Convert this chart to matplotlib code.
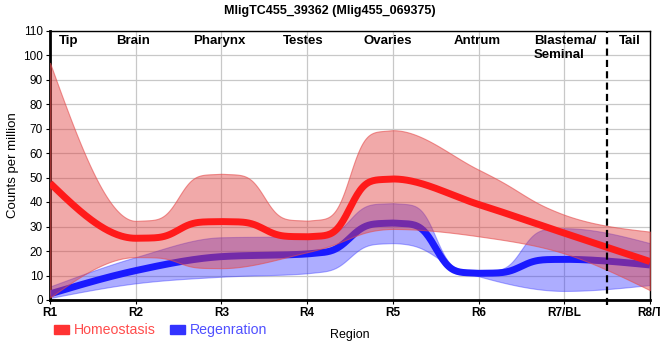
import numpy as np
import matplotlib
matplotlib.use("Agg")
import matplotlib.pyplot as plt
from matplotlib.patches import Patch

plt.rcParams['font.family'] = ['Liberation Sans', 'DejaVu Sans']

regions = ['R1', 'R2', 'R3', 'R4', 'R5', 'R6', 'R7/BL', 'R8/T']
# homeostasis: mean and band
homeo_mean = [47.7, 25.2, 32.0, 25.8, 49.4, 39.0, 27.3, 15.7]
homeo_low = [1.0, 17.5, 13.0, 19.5, 29.0, 26.0, 19.0, 4.0]
homeo_high = [96.8, 32.3, 51.5, 32.4, 69.3, 53.2, 34.8, 27.9]
# regeneration: mean and band
regen_mean = [2.5, 12.0, 17.7, 18.8, 31.4, 10.9, 16.6, 14.3]
regen_low = [0.8, 6.8, 9.5, 10.9, 23.2, 9.7, 3.7, 6.1]
regen_high = [5.5, 17.5, 25.6, 26.0, 39.5, 11.8, 29.3, 23.2]

section_names = ['Tip', 'Brain', 'Pharynx', 'Testes', 'Ovaries', 'Antrum',
                 'Blastema/\nSeminal', 'Tail']
section_pos = [0.22, 0.97, 1.98, 2.95, 3.94, 4.98, 6.01, 6.77]


def monotone(y, n=60):
    # monotone cubic through the points, transitions a bit sharper
    # when both ends of a segment are flat
    y = np.asarray(y, float)
    s = np.diff(y)
    t = np.zeros_like(y)
    for i in range(1, len(y) - 1):
        s0, s1 = s[i - 1], s[i]
        p = (s0 + s1) / 2
        t[i] = (np.sign(s0) + np.sign(s1)) * min(abs(s0), abs(s1), 0.5 * abs(p))
    t[0] = (3 * s[0] - t[1]) / 2
    t[-1] = (3 * s[-1] - t[-2]) / 2
    xs, ys = [], []
    u = np.linspace(0, 1, n, endpoint=False)
    for i in range(len(y) - 1):
        d = s[i]
        flat = 1.0
        if d != 0:
            flat = 1 - min(1.0, max(abs(t[i]), abs(t[i + 1])) / abs(d))
        w = u + 15 * flat * u**2 * (1 - u)**2 * (u - 0.5)
        h01 = -2 * w**3 + 3 * w**2
        h10 = u**3 - 2 * u**2 + u
        h11 = u**3 - u**2
        xs.append(i + u)
        ys.append(y[i] + d * h01 + h10 * t[i] + h11 * t[i + 1])
    xs.append([len(y) - 1])
    ys.append([y[-1]])
    return np.concatenate(xs), np.concatenate(ys)


fig = plt.figure(figsize=(6.6, 3.6), dpi=100)
ax = fig.add_axes([50 / 660, 60 / 360, 600 / 660, 269.5 / 360])

x, bl = monotone(regen_low)
_, bh = monotone(regen_high)
_, bm = monotone(regen_mean)
x, rl = monotone(homeo_low)
_, rh = monotone(homeo_high)
_, rm = monotone(homeo_mean)

ax.fill_between(x, bl, bh, color='#3333ff', alpha=0.4, lw=0.8, zorder=2)
ax.plot(x, bm, color='#1a1aff', lw=5, solid_capstyle='butt', zorder=3)
ax.fill_between(x, rl, rh, facecolor=(0.88, 0.25, 0.25, 0.45),
                edgecolor=(0.9, 0.3, 0.3, 0.6), lw=0.8, zorder=4)
ax.plot(x, rm, color='#ff1a1a', lw=5, solid_capstyle='butt', zorder=5)

ax.axvline(6.5, ymin=-0.02, ymax=1, color='black', lw=1.6,
           dashes=(3.2, 1.9), clip_on=False, zorder=6)

for name, pos in zip(section_names, section_pos):
    ax.text(pos, 108.3, name, ha='center', va='top', fontsize=9.5,
            fontweight='bold', multialignment='left', linespacing=1.25,
            zorder=7)

ax.set_xlim(0, 7)
ax.set_ylim(0, 110)
ax.set_xticks(range(len(regions)))
ax.set_xticklabels(regions, fontsize=8.5, fontweight='bold')
ax.set_yticks(np.arange(0, 111, 10))
ax.tick_params(axis='y', labelsize=8.5, length=3, pad=2)
ax.tick_params(axis='x', length=3, pad=2)
ax.grid(color='#c8c8c8', lw=0.9)
ax.set_axisbelow(True)
for side in ['left', 'bottom']:
    ax.spines[side].set_linewidth(2)
for side in ['top', 'right']:
    ax.spines[side].set_linewidth(1)

ax.set_ylabel('Counts per million', fontsize=9.5, labelpad=3)
ax.set_xlabel('Region', fontsize=9, labelpad=7)
fig.suptitle('MligTC455_39362 (Mlig455_069375)', fontsize=9,
             fontweight='bold', y=0.985)

handles = [Patch(color='#ff3333'), Patch(color='#3333ff')]
leg = fig.legend(handles, ['Homeostasis', 'Regenration'], loc='center left',
                 bbox_to_anchor=(0.062, 0.083), ncol=2, frameon=False,
                 fontsize=10.2, handlelength=1.1, handleheight=0.6,
                 handletextpad=0.3, columnspacing=1.0)
for txt, c in zip(leg.get_texts(), ['#ff4d4d', '#5050ff']):
    txt.set_color(c)

fig.savefig('out.png', dpi=100)
